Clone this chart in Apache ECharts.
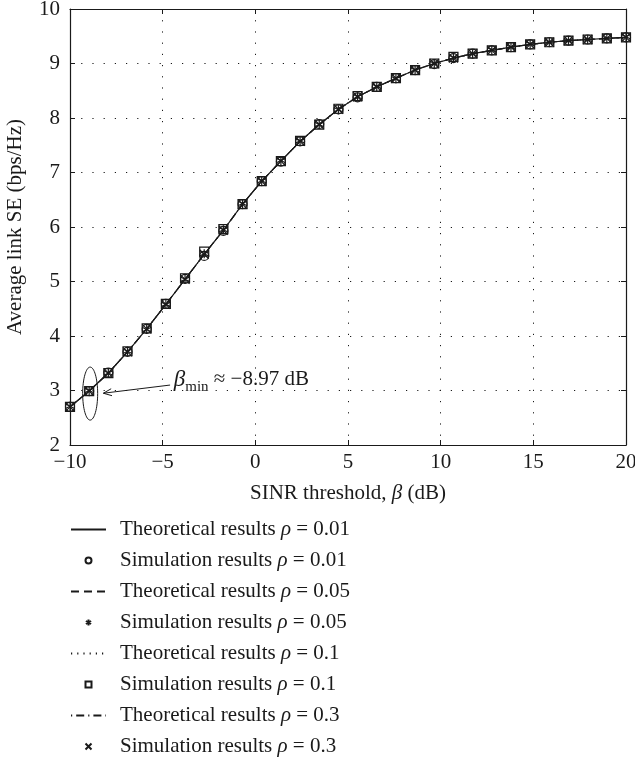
<!DOCTYPE html>
<html><head><meta charset="utf-8">
<script src="https://cdn.jsdelivr.net/npm/echarts@6/dist/echarts.min.js"></script>
<style>html,body{margin:0;padding:0;background:#fff}#c{width:635px;height:764px}</style>
</head><body><div id="c"></div>
<script>
// SINR threshold (dB): 30 evenly spaced points from -10 to 20
const beta = [-10,-8.966,-7.931,-6.897,-5.862,-4.828,-3.793,-2.759,-1.724,-0.690,0.345,1.379,2.414,3.448,4.483,5.517,6.552,7.586,8.621,9.655,10.690,11.724,12.759,13.793,14.828,15.862,16.897,17.931,18.966,20];
const theo001 = [2.70,2.99,3.32,3.71,4.13,4.58,5.04,5.50,5.94,6.42,6.84,7.21,7.57,7.88,8.16,8.39,8.57,8.73,8.88,9.00,9.10,9.18,9.24,9.30,9.35,9.39,9.42,9.44,9.46,9.48];
const theo005 = [2.70,2.99,3.32,3.71,4.13,4.58,5.04,5.50,5.94,6.42,6.84,7.21,7.57,7.88,8.16,8.39,8.57,8.73,8.88,9.00,9.10,9.18,9.24,9.30,9.35,9.39,9.42,9.44,9.46,9.48];
const theo01  = [2.70,2.99,3.32,3.71,4.13,4.58,5.04,5.50,5.94,6.42,6.84,7.21,7.57,7.88,8.16,8.39,8.57,8.73,8.88,9.00,9.10,9.18,9.24,9.30,9.35,9.39,9.42,9.44,9.46,9.48];
const theo03  = [2.70,2.99,3.32,3.71,4.13,4.58,5.04,5.50,5.94,6.42,6.84,7.21,7.57,7.88,8.16,8.39,8.57,8.73,8.88,9.00,9.10,9.18,9.24,9.30,9.35,9.39,9.42,9.44,9.46,9.48];
const sim001  = [2.70,2.99,3.33,3.71,4.13,4.59,5.05,5.47,5.93,6.42,6.84,7.20,7.57,7.89,8.16,8.38,8.57,8.73,8.88,8.99,9.10,9.18,9.24,9.30,9.35,9.39,9.42,9.44,9.46,9.48];
const sim005  = [2.71,3.00,3.32,3.72,4.12,4.58,5.04,5.51,5.95,6.43,6.85,7.22,7.58,7.88,8.15,8.39,8.58,8.72,8.88,9.00,9.11,9.18,9.25,9.30,9.36,9.39,9.42,9.44,9.46,9.49];
const sim01   = [2.70,2.99,3.32,3.72,4.14,4.59,5.06,5.55,5.96,6.42,6.84,7.21,7.58,7.88,8.17,8.40,8.57,8.73,8.88,9.00,9.12,9.18,9.24,9.30,9.35,9.39,9.42,9.44,9.46,9.48];
const sim03   = [2.70,2.99,3.32,3.71,4.13,4.58,5.04,5.50,5.94,6.42,6.84,7.21,7.57,7.88,8.16,8.39,8.57,8.73,8.88,9.00,9.10,9.18,9.24,9.30,9.35,9.39,9.42,9.44,9.46,9.48];
const rhoLabels = ['0.01','0.05','0.1','0.3'];
const xTicks = {min:-10, max:20, interval:5};
const yTicks = {min:2, max:10, interval:1};

const FONT = '"Liberation Serif","DejaVu Serif",serif';
const FS = 21;
const INK = '#1a1a1a';
const zip = a => beta.map((b,i)=>[b,a[i]]);
const minus = v => (v<0?'\u2212'+Math.abs(v):String(v));

const theoNames = rhoLabels.map(r=>'Theoretical results \u03c1 = '+r);
const simNames = rhoLabels.map(r=>'Simulation results \u03c1 = '+r);
const theo = [theo001,theo005,theo01,theo03];
const sims = [sim001,sim005,sim01,sim03];
const dashes = ['solid',[8,5],[1.2,5],[1.2,4,8,4]];
const symbols = ['path://M10,5A5,5,0,1,1,0,5A5,5,0,1,1,10,5Z',
  'path://M5,0L5,10M0.7,2.5L9.3,7.5M0.7,7.5L9.3,2.5',
  'path://M0,0L10,0L10,10L0,10Z',
  'path://M0,0L10,10M10,0L0,10'];

const series = [];
for (let k=0;k<4;k++){
  series.push({name:theoNames[k], type:'line', data:zip(theo[k]), symbol:'none', showSymbol:false,
    lineStyle:{color:INK, width:1.2, type:dashes[k]}, itemStyle:{color:'rgba(0,0,0,0)', borderWidth:0}, z:2, animation:false});
  series.push({name:simNames[k], type:'scatter', data:zip(sims[k]), symbol:symbols[k], symbolSize:9,
    itemStyle:{color:'rgba(0,0,0,0)', borderColor:INK, borderWidth:1.2, opacity:1}, z:3, animation:false});
}

const legendNames = [];
for (let k=0;k<4;k++){legendNames.push(theoNames[k]); legendNames.push(simNames[k]);}

const rich = {a:{fontFamily:FONT,fontSize:FS,color:INK,lineHeight:21},i:{fontFamily:FONT,fontSize:FS,fontStyle:'italic',color:INK,lineHeight:21}};
const chart = echarts.init(document.getElementById('c'), null, {renderer:'canvas'});
const axisBase = {axisLine:{show:true, onZero:false, lineStyle:{color:INK, width:1.2}}, axisTick:{show:true, inside:true, length:5, lineStyle:{color:INK}},
  splitLine:{show:false}};
chart.setOption({
  animation:false,
  backgroundColor:'#fff',
  grid:{left:70, right:9, top:9, bottom:319, containLabel:false, outerBoundsMode:'none'},
  xAxis:[
    Object.assign({type:'value', position:'bottom', min:xTicks.min, max:xTicks.max, interval:xTicks.interval,
      name:'{a|SINR threshold, }{i|\u03b2}{a| (dB)}', nameLocation:'middle', nameGap:38,
      nameTextStyle:{rich:rich},
      axisLabel:{fontFamily:FONT, fontSize:FS, color:INK, margin:7, formatter:minus}}, axisBase,
      {splitLine:{show:true, lineStyle:{color:INK, type:[1.2,10], width:1}}}),
    Object.assign({type:'value', position:'top', min:xTicks.min, max:xTicks.max, interval:xTicks.interval, axisLabel:{show:false}}, axisBase)
  ],
  yAxis:[
    Object.assign({type:'value', position:'left', min:yTicks.min, max:yTicks.max, interval:yTicks.interval,
      name:'Average link SE (bps/Hz)', nameLocation:'middle', nameGap:44,
      nameTextStyle:{fontFamily:FONT, fontSize:FS, color:INK},
      axisLabel:{fontFamily:FONT, fontSize:FS, color:INK, margin:10}}, axisBase,
      {splitLine:{show:true, lineStyle:{color:INK, type:[1.2,10], width:1}}}),
    Object.assign({type:'value', position:'right', min:yTicks.min, max:yTicks.max, interval:yTicks.interval, axisLabel:{show:false}}, axisBase)
  ],
  legend:{
    orient:'vertical', left:70, top:519, itemWidth:35, itemHeight:6, itemGap:10, padding:0,
    data:legendNames, selectedMode:false, symbolKeepAspect:true,
    textStyle:{fontFamily:FONT, fontSize:FS, color:INK, lineHeight:21, padding:[0,0,0,9], rich:rich},
    formatter: n => {
      const m = n.match(/^(.*) \u03c1 = (.*)$/);
      return '{a|'+m[1]+' }{i|\u03c1}{a| = '+m[2]+'}';
    }
  },
  series: series
});

// annotation for beta_min, positioned in data coordinates via the axes
const annPoint = [beta[1], 2.98];
const arrowFrom = [-4.6, 3.1], arrowTo = [-8.2, 2.95], textAt = [-4.4, 3.2];
const P = c => chart.convertToPixel({xAxisIndex:0, yAxisIndex:0}, c);
const pc = P(annPoint), pa = P(arrowFrom), pb = P(arrowTo), pt = P(textAt);
const ang = Math.atan2(pb[1]-pa[1], pb[0]-pa[0]);
const h = 9, w = 0.4;
const h1 = [pb[0]-h*Math.cos(ang-w), pb[1]-h*Math.sin(ang-w)];
const h2 = [pb[0]-h*Math.cos(ang+w), pb[1]-h*Math.sin(ang+w)];
chart.setOption({graphic:[
  {type:'ellipse', shape:{cx:pc[0]+1, cy:pc[1]+2, rx:7.5, ry:26.5}, style:{fill:null, stroke:INK, lineWidth:1}, z:10},
  {type:'line', shape:{x1:pa[0], y1:pa[1], x2:pb[0], y2:pb[1]}, style:{stroke:INK, lineWidth:1}, z:10},
  {type:'polyline', shape:{points:[h1, pb, h2]}, style:{stroke:INK, fill:null, lineWidth:1}, z:10},
  {type:'text', x:pt[0], y:pt[1], z:10, style:{
    text:'{b|\u03b2}{s|min}{t| \u2248 \u22128.97 dB}', verticalAlign:'middle',
    rich:{b:{fontFamily:FONT, fontSize:23, fontStyle:'italic', fill:INK},
          s:{fontFamily:FONT, fontSize:15, fill:INK, padding:[14,0,0,0]},
          t:{fontFamily:FONT, fontSize:21, fill:INK}}}}
]});
</script></body></html>
